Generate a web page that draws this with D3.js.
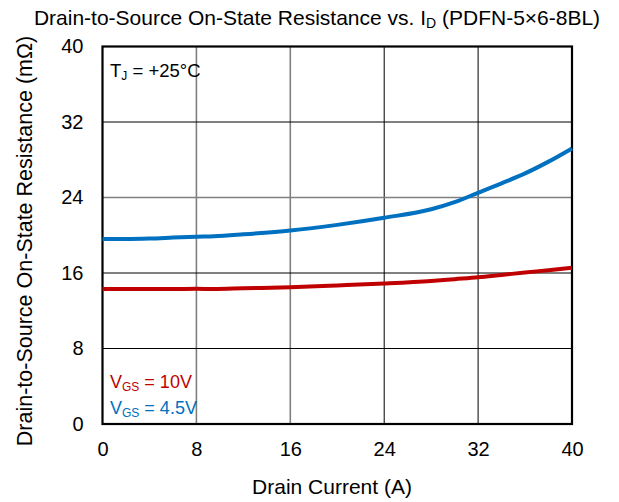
<!DOCTYPE html>
<html><head><meta charset="utf-8">
<script src="https://cdn.jsdelivr.net/npm/d3@7"></script>
<style>body{margin:0;background:#fff}text{font-family:"Liberation Sans",Arial,sans-serif}</style>
</head><body><svg id="c" width="619" height="502"></svg>
<script>
const drainCurrent = [0, 2, 4, 6, 8, 9.5, 12, 16, 20, 24, 28, 30, 32, 34, 36, 38, 40];
const rdsVgs45 = [19.6, 19.6, 19.65, 19.75, 19.85, 19.9, 20.1, 20.5, 21.1, 21.85, 22.75, 23.5, 24.5, 25.5, 26.55, 27.8, 29.2];
const rdsVgs10 = [14.3, 14.3, 14.3, 14.3, 14.32, 14.3, 14.38, 14.5, 14.68, 14.88, 15.15, 15.35, 15.55, 15.8, 16.05, 16.3, 16.55];
const xTicks = [0, 8, 16, 24, 32, 40];
const yTicks = [0, 8, 16, 24, 32, 40];
const grayX = [8, 16];
const grayY = [24];

const svg = d3.select("#c");
const x = d3.scaleLinear().domain([0, 40]).range([102.5, 572]);
const y = d3.scaleLinear().domain([0, 40]).range([424, 46.5]);

// grid
svg.append("g").selectAll("line").data(xTicks.slice(1, -1)).join("line")
  .attr("x1", d => x(d)).attr("x2", d => x(d)).attr("y1", y(40)).attr("y2", y(0))
  .attr("stroke", d => grayX.includes(d) ? "#808080" : "#000")
  .attr("stroke-width", d => grayX.includes(d) ? 1.6 : 1);
svg.append("g").selectAll("line").data(yTicks.slice(1, -1)).join("line")
  .attr("y1", d => y(d)).attr("y2", d => y(d)).attr("x1", x(0)).attr("x2", x(40))
  .attr("stroke", d => grayY.includes(d) ? "#808080" : "#000")
  .attr("stroke-width", d => grayY.includes(d) ? 1.6 : 1);

// axes (labels only)
const xAxis = svg.append("g").attr("transform", `translate(0,${y(0)})`)
  .call(d3.axisBottom(x).tickValues(xTicks).tickSize(0).tickPadding(18));
const yAxis = svg.append("g").attr("transform", `translate(${x(0)},0)`)
  .call(d3.axisLeft(y).tickValues(yTicks).tickSize(0).tickPadding(19));
[xAxis, yAxis].forEach(a => {
  a.select(".domain").remove();
  a.selectAll("text").attr("font-size", 20).attr("fill", "#000")
    .style("font-family", '"Liberation Sans",Arial,sans-serif');
});

// frame
svg.append("rect").attr("x", x(0)).attr("y", y(40)).attr("width", x(40) - x(0)).attr("height", y(0) - y(40))
  .attr("fill", "none").attr("stroke", "#000").attr("stroke-width", 2.2);

// curves
const line = d3.line().x(d => x(d[0])).y(d => y(d[1])).curve(d3.curveMonotoneX);
svg.append("path").datum(drainCurrent.map((c, i) => [c, rdsVgs10[i]]))
  .attr("d", line).attr("fill", "none").attr("stroke", "#c00000").attr("stroke-width", 4);
svg.append("path").datum(drainCurrent.map((c, i) => [c, rdsVgs45[i]]))
  .attr("d", line).attr("fill", "none").attr("stroke", "#0070c0").attr("stroke-width", 4);

// title
const t = svg.append("text").attr("x", 317).attr("y", 25).attr("text-anchor", "middle").attr("font-size", 21);
t.append("tspan").text("Drain-to-Source On-State Resistance vs. I");
t.append("tspan").text("D").attr("font-size", 14).attr("dy", 3);
t.append("tspan").text(" (PDFN-5×6-8BL)").attr("dy", -3);

// axis titles
svg.append("text").attr("x", 332).attr("y", 494).attr("text-anchor", "middle").attr("font-size", 21).text("Drain Current (A)");
svg.append("text").attr("transform", "translate(32,241) rotate(-90)").attr("text-anchor", "middle")
  .attr("font-size", 21.5).text("Drain-to-Source On-State Resistance (mΩ)");

// annotations
const tj = svg.append("text").attr("x", 110).attr("y", 77).attr("font-size", 18.5);
tj.append("tspan").text("T");
tj.append("tspan").text("J").attr("font-size", 12).attr("dy", 3);
tj.append("tspan").text(" = +25°C").attr("dy", -3);

function vgs(txt, yy, col) {
  const g = svg.append("text").attr("x", 110).attr("y", yy).attr("font-size", 18).attr("fill", col);
  g.append("tspan").text("V");
  g.append("tspan").text("GS").attr("font-size", 12).attr("dy", 3);
  g.append("tspan").text(" = " + txt).attr("dy", -3);
}
vgs("10V", 388, "#c00000");
vgs("4.5V", 414, "#0070c0");
</script></body></html>
